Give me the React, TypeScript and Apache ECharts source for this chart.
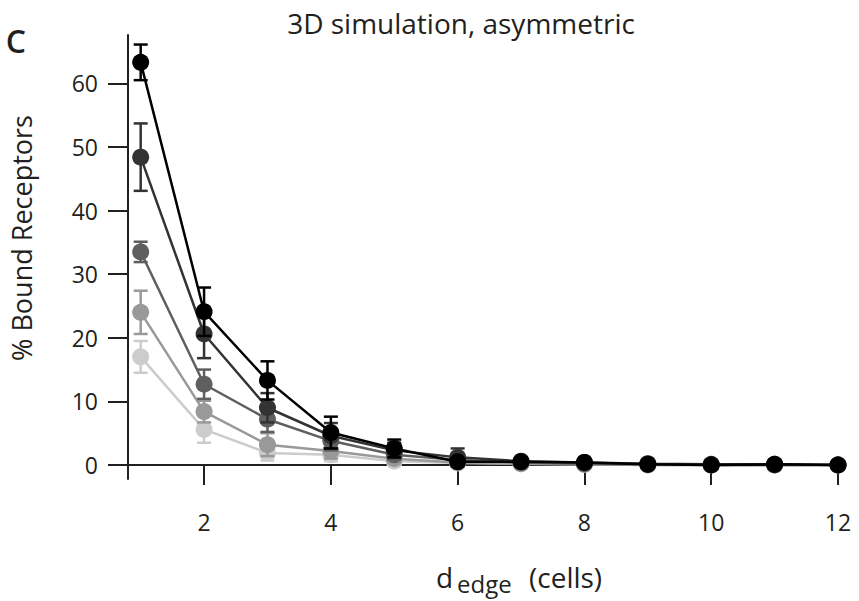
import React, { useEffect, useRef } from "react";
import * as echarts from "echarts";

// Distance from the stimulated edge, in cells
const distances = [1, 2, 3, 4, 5, 6, 7, 8, 9, 10, 11, 12];

// Percent of bound receptors, one curve per condition (lightest to darkest)
const boundA = [17.0, 5.6, 1.9, 1.6, 0.6, 0.3, 0.2, 0.1, 0.0, 0.0, 0.0, 0.0];
const boundB = [24.0, 8.4, 3.2, 2.2, 1.0, 0.4, 0.2, 0.1, 0.0, 0.0, 0.0, 0.0];
const boundC = [33.5, 12.7, 7.2, 3.8, 1.6, 0.8, 0.4, 0.2, 0.1, 0.0, 0.0, 0.0];
const boundD = [48.4, 20.6, 9.0, 4.6, 2.3, 1.2, 0.6, 0.4, 0.2, 0.1, 0.1, 0.0];
const boundE = [63.3, 24.1, 13.3, 5.1, 2.6, 0.5, 0.5, 0.4, 0.1, 0.0, 0.1, 0.0];

// Standard deviations for each curve
const errA = [2.5, 2.1, 1.2, 1.0, 0.5, 0.3, 0.2, 0.1, 0.1, 0.1, 0.1, 0.1];
const errB = [3.4, 1.7, 1.8, 1.2, 0.7, 0.3, 0.2, 0.1, 0.1, 0.1, 0.1, 0.1];
const errC = [1.6, 2.3, 2.0, 1.5, 0.8, 0.6, 0.2, 0.2, 0.1, 0.1, 0.1, 0.1];
const errD = [5.3, 3.8, 2.3, 2.0, 1.2, 1.4, 0.3, 0.2, 0.1, 0.1, 0.1, 0.1];
const errE = [2.8, 3.8, 3.0, 2.5, 1.4, 0.3, 0.3, 0.2, 0.1, 0.1, 0.1, 0.1];

const curveColors = ["#cccccc", "#999999", "#5f5f5f", "#333333", "#000000"];

const xTicks = [2, 4, 6, 8, 10, 12];
const yTicks = [0, 10, 20, 30, 40, 50, 60];

const titleText = "3D simulation, asymmetric";
const yAxisTitle = "% Bound Receptors";
const panelLetter = "C";

const FONT = "'Open Sans', 'Noto Sans', sans-serif";
const INK = "#231f20";

export default function App() {
  const ref = useRef<HTMLDivElement>(null);

  useEffect(() => {
    if (!ref.current) return;
    const chart = echarts.init(ref.current, undefined, { renderer: "svg" });

    const curves = [boundA, boundB, boundC, boundD, boundE];
    const errors = [errA, errB, errC, errD, errE];

    const series: any[] = [];
    curves.forEach((vals, k) => {
      const color = curveColors[k];
      const err = errors[k];
      // error bars with caps, drawn just beneath the curve of the same colour
      series.push({
        type: "custom",
        z: 2 + k * 2,
        data: distances.map((d, i) => [d, vals[i] - err[i], vals[i] + err[i]]),
        encode: { x: 0, y: [1, 2] },
        renderItem: (params: any, api: any) => {
          const x = api.value(0);
          const lo = api.coord([x, api.value(1)]);
          const hi = api.coord([x, api.value(2)]);
          const half = 7;
          const style = { stroke: color, lineWidth: 2.5 };
          return {
            type: "group",
            children: [
              { type: "line", shape: { x1: lo[0], y1: lo[1], x2: hi[0], y2: hi[1] }, style },
              { type: "line", shape: { x1: lo[0] - half, y1: lo[1], x2: lo[0] + half, y2: lo[1] }, style },
              { type: "line", shape: { x1: hi[0] - half, y1: hi[1], x2: hi[0] + half, y2: hi[1] }, style },
            ],
          };
        },
      });
      series.push({
        type: "line",
        z: 3 + k * 2,
        data: distances.map((d, i) => [d, vals[i]]),
        symbol: "circle",
        symbolSize: 17,
        lineStyle: { color, width: 2.5 },
        itemStyle: { color },
      });
    });

    chart.setOption({
      animation: false,
      backgroundColor: "#ffffff",
      grid: { left: 128, right: 21, top: 35, bottom: 122 },
      xAxis: {
        type: "value",
        min: 0.8,
        max: 12,
        axisLine: { lineStyle: { color: INK, width: 2 } },
        axisTick: { show: true, length: 20, lineStyle: { color: INK, width: 2 }, customValues: xTicks },
        axisLabel: { color: INK, fontSize: 23, fontFamily: FONT, margin: 31, customValues: xTicks },
        splitLine: { show: false },
      },
      yAxis: {
        type: "value",
        min: -2.2,
        max: 67.6,
        axisLine: { show: true, lineStyle: { color: INK, width: 2 } },
        axisTick: { show: true, length: 20, lineStyle: { color: INK, width: 2 }, customValues: yTicks },
        axisLabel: { color: INK, fontSize: 23, fontFamily: FONT, margin: 30, customValues: yTicks },
        splitLine: { show: false },
      },
      graphic: [
        {
          type: "text",
          x: 461,
          y: 23,
          style: {
            text: titleText,
            align: "center",
            verticalAlign: "middle",
            fill: INK,
            fontSize: 28,
            fontFamily: FONT,
          },
        },
        {
          type: "text",
          x: 16,
          y: 40,
          style: {
            text: panelLetter,
            align: "center",
            verticalAlign: "middle",
            fill: INK,
            fontSize: 32,
            fontWeight: 600,
            fontFamily: FONT,
          },
        },
        {
          type: "text",
          x: 21,
          y: 238,
          rotation: Math.PI / 2,
          style: {
            text: yAxisTitle,
            align: "center",
            verticalAlign: "middle",
            fill: INK,
            fontSize: 27,
            fontFamily: FONT,
          },
        },
        {
          type: "text",
          x: 436,
          y: 577,
          style: { text: "d", align: "left", verticalAlign: "middle", fill: INK, fontSize: 28, fontFamily: FONT },
        },
        {
          type: "text",
          x: 457,
          y: 583,
          style: { text: "edge", align: "left", verticalAlign: "middle", fill: INK, fontSize: 24, fontFamily: FONT },
        },
        {
          type: "text",
          x: 529,
          y: 577,
          style: { text: "(cells)", align: "left", verticalAlign: "middle", fill: INK, fontSize: 28, fontFamily: FONT },
        },
      ],
      series,
    });

    return () => chart.dispose();
  }, []);

  return (
    <div
      ref={ref}
      style={{ position: "fixed", left: 0, top: 0, width: 859, height: 601 }}
    />
  );
}
